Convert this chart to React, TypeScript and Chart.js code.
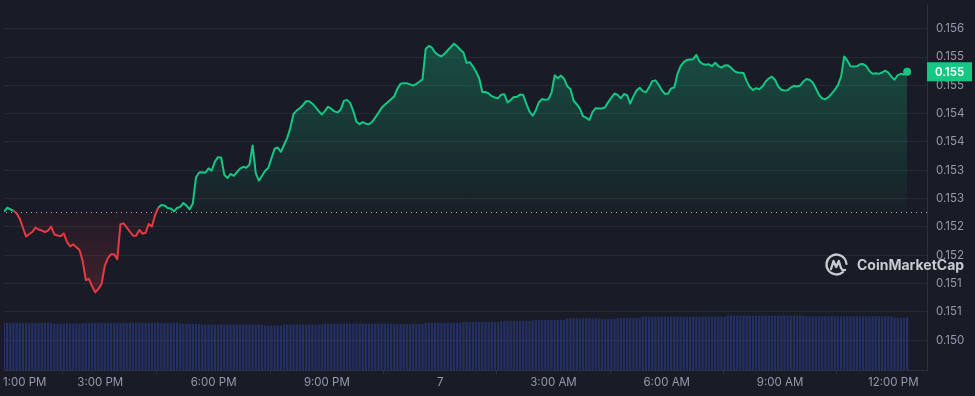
import React, { useEffect, useRef } from "react";
import { Chart, registerables } from "chart.js";

Chart.register(...registerables);

// 5-minute samples, starting 12:27 PM
const STEP_MINUTES = 5;

const PRICE: number[] = [
  0.152769, 0.152839, 0.152813, 0.152786, 0.152743, 0.152647, 0.15249, 0.152332, 0.152376, 0.152411,
  0.15249, 0.152455, 0.152437, 0.152411, 0.152437, 0.152507, 0.152367, 0.15235, 0.152338, 0.152385,
  0.152236, 0.152158, 0.152193, 0.15214, 0.152093, 0.151896, 0.151564, 0.151582, 0.151452, 0.151346,
  0.151407, 0.151491, 0.151809, 0.151948, 0.152018, 0.152018, 0.151931, 0.152547, 0.152563, 0.152493,
  0.152416, 0.152345, 0.152345, 0.152446, 0.152381, 0.152399, 0.152554, 0.152507, 0.152708, 0.152839,
  0.152886, 0.152881, 0.152835, 0.152827, 0.152776, 0.152835, 0.152855, 0.152923, 0.152877, 0.152813,
  0.152914, 0.153373, 0.153462, 0.153466, 0.153457, 0.153534, 0.153495, 0.153651, 0.153733, 0.153726,
  0.153422, 0.153364, 0.153436, 0.153403, 0.153466, 0.15353, 0.153562, 0.153544, 0.153598, 0.153939,
  0.15345, 0.153317, 0.153405, 0.153494, 0.153546, 0.153715, 0.153881, 0.153902, 0.153827, 0.153951,
  0.154072, 0.15425, 0.154494, 0.154555, 0.154597, 0.154653, 0.154719, 0.154719, 0.154676, 0.154615,
  0.154545, 0.154486, 0.15455, 0.154623, 0.154585, 0.154541, 0.154522, 0.154573, 0.154725, 0.154744,
  0.15469, 0.154545, 0.154358, 0.154314, 0.154351, 0.154323, 0.154314, 0.154358, 0.154435, 0.154517,
  0.154603, 0.154657, 0.154706, 0.154753, 0.154803, 0.154938, 0.155029, 0.155039, 0.155039, 0.155018,
  0.154997, 0.155027, 0.155064, 0.155109, 0.155641, 0.155697, 0.155664, 0.155579, 0.155535, 0.155511,
  0.155558, 0.155619, 0.155676, 0.155736, 0.15569, 0.155628, 0.155579, 0.155397, 0.155409, 0.155336,
  0.15524, 0.155126, 0.154882, 0.154882, 0.154857, 0.154809, 0.154786, 0.154774, 0.154835, 0.154842,
  0.154699, 0.154742, 0.154795, 0.154796, 0.154838, 0.154828, 0.154672, 0.154538, 0.154463, 0.154562,
  0.154702, 0.154758, 0.154744, 0.154754, 0.154871, 0.155177, 0.155126, 0.155172, 0.155116, 0.154983,
  0.154934, 0.154728, 0.154667, 0.15459, 0.154454, 0.15443, 0.154388, 0.154529, 0.154597, 0.15459,
  0.154592, 0.154611, 0.154704, 0.154784, 0.154856, 0.154833, 0.15477, 0.154847, 0.154826, 0.154678,
  0.154805, 0.154908, 0.154957, 0.154898, 0.154878, 0.154964, 0.155074, 0.155088, 0.155013, 0.154917,
  0.154852, 0.154852, 0.154947, 0.154961, 0.155198, 0.155338, 0.155411, 0.155449, 0.155456, 0.155462,
  0.155537, 0.155423, 0.155376, 0.155362, 0.155371, 0.155339, 0.155399, 0.155341, 0.155313, 0.155352,
  0.155353, 0.155313, 0.155257, 0.155226, 0.155224, 0.155217, 0.155074, 0.154969, 0.154917, 0.154952,
  0.154931, 0.154978, 0.155065, 0.155121, 0.155154, 0.155098, 0.154983, 0.154922, 0.15491, 0.154913,
  0.154961, 0.154992, 0.154981, 0.154997, 0.155067, 0.155112, 0.1551, 0.15505, 0.154943, 0.15483,
  0.154768, 0.154756, 0.154791, 0.154852, 0.15492, 0.155004, 0.155154, 0.155511, 0.155435, 0.155338,
  0.155331, 0.155336, 0.155371, 0.155376, 0.155341, 0.155254, 0.155205, 0.155212, 0.155203, 0.155226,
  0.155259, 0.155226, 0.155153, 0.1551, 0.155179, 0.155203, 0.155191, 0.15524,
];

// 24h rolling volume (millions)
const VOLUME: number[] = [
  12.9, 12.9, 12.9, 12.9, 12.9, 12.9, 12.9, 12.9, 12.9, 12.9,
  12.9, 12.9, 12.9, 12.9, 12.9, 12.9, 12.62, 12.62, 12.62, 12.7,
  12.7, 12.7, 12.7, 12.7, 12.7, 12.9, 12.9, 12.9, 12.9, 12.9,
  12.9, 12.9, 12.9, 12.9, 12.9, 12.9, 12.9, 12.9, 12.9, 12.9,
  12.9, 12.9, 12.9, 12.9, 12.9, 12.9, 12.9, 12.9, 12.9, 12.9,
  12.9, 12.9, 12.9, 12.9, 12.9, 12.9, 12.62, 12.62, 12.62, 12.62,
  12.62, 12.62, 12.62, 12.43, 12.43, 12.43, 12.43, 12.43, 12.43, 12.43,
  12.43, 12.43, 12.43, 12.43, 12.43, 12.43, 12.43, 12.43, 12.43, 12.43,
  12.43, 12.43, 12.43, 12.16, 12.16, 12.16, 12.16, 12.16, 12.16, 12.43,
  12.43, 12.43, 12.43, 12.43, 12.43, 12.43, 12.43, 12.43, 12.43, 12.43,
  12.43, 12.43, 12.65, 12.65, 12.65, 12.65, 12.65, 12.65, 12.65, 12.65,
  12.65, 12.65, 12.65, 12.65, 12.65, 12.65, 12.65, 12.65, 12.65, 12.65,
  12.65, 12.65, 12.65, 12.65, 12.57, 12.57, 12.57, 12.57, 12.57, 12.57,
  12.57, 12.57, 12.57, 12.57, 12.9, 12.9, 12.9, 12.9, 12.9, 12.9,
  12.9, 12.9, 12.9, 12.9, 12.9, 12.9, 13.16, 13.16, 13.16, 13.16,
  13.16, 13.16, 13.16, 13.16, 13.16, 13.16, 13.16, 13.16, 13.43, 13.43,
  13.43, 13.43, 13.43, 13.43, 13.43, 13.43, 13.43, 13.43, 13.7, 13.7,
  13.7, 13.7, 13.7, 13.7, 13.7, 13.7, 13.7, 13.7, 13.7, 14.14,
  14.14, 14.14, 14.14, 14.14, 14.14, 14.14, 14.14, 14.14, 14.14, 14.14,
  13.97, 13.97, 13.97, 13.97, 13.97, 14.24, 14.24, 14.24, 14.24, 14.24,
  14.24, 14.24, 14.24, 14.59, 14.59, 14.59, 14.59, 14.59, 14.59, 14.59,
  14.59, 14.59, 14.59, 14.59, 14.59, 14.59, 14.59, 14.59, 14.59, 14.59,
  14.59, 14.59, 14.59, 14.59, 14.59, 14.59, 14.59, 14.59, 14.59, 14.59,
  14.86, 14.86, 14.86, 14.86, 14.86, 14.86, 14.86, 14.86, 14.86, 14.86,
  14.86, 14.86, 14.86, 14.86, 14.86, 14.86, 14.86, 14.86, 14.86, 14.86,
  14.86, 14.86, 14.86, 14.86, 14.86, 14.68, 14.68, 14.68, 14.68, 14.68,
  14.68, 14.68, 14.68, 14.68, 14.68, 14.68, 14.68, 14.68, 14.68, 14.68,
  14.68, 14.68, 14.68, 14.68, 14.68, 14.68, 14.68, 14.68, 14.68, 14.68,
  14.68, 14.68, 14.68, 14.32, 14.32, 14.32, 14.32, 14.32,
];

const BASELINE = 0.152769;
const CURRENT_PRICE_LABEL = "0.155";

const Y_MIN = 0.149975;
const Y_MAX = 0.156436;
const Y_TICKS = [0.1505, 0.151, 0.1515, 0.152, 0.1525, 0.153, 0.1535, 0.154, 0.1545, 0.155, 0.1555, 0.156];
const Y_TICK_LABELS = ["0.150", "0.151", "0.151", "0.152", "0.152", "0.153", "0.153", "0.154", "0.154", "0.155", "0.155", "0.156"];

const X_MAX_MINUTES = 1466.5;
const X_TICKS = [33, 153, 333, 513, 693, 873, 1053, 1233, 1413];
const X_TICK_LABELS = ["1:00 PM", "3:00 PM", "6:00 PM", "9:00 PM", "7", "3:00 AM", "6:00 AM", "9:00 AM", "12:00 PM"];

const VOLUME_AXIS_MAX = 100;

const GREEN = "#16c784";
const RED = "#ea3943";
const BG = "#191b26";
const GRID = "#262936";
const AXIS = "#2d303d";
const TEXT = "#949aaa";
const FONT = "Inter, 'Noto Sans', sans-serif";

const overlayPlugin = {
  id: "cmcOverlay",
  beforeDatasetsDraw(chart: any) {
    const { ctx, chartArea, scales } = chart;
    const y = scales.y.getPixelForValue(BASELINE);
    ctx.save();
    ctx.strokeStyle = "rgba(200,204,214,0.85)";
    ctx.lineWidth = 1;
    ctx.setLineDash([1, 4]);
    ctx.beginPath();
    ctx.moveTo(chartArea.left + 2, Math.round(y) + 0.5);
    ctx.lineTo(chartArea.right, Math.round(y) + 0.5);
    ctx.stroke();
    ctx.restore();
  },
  afterDraw(chart: any) {
    const { ctx, chartArea, scales } = chart;
    // watermark
    ctx.save();
    const wm = "rgba(214,217,225,0.92)";
    const cx = 836.5;
    const cy = 264.5;
    const r = 10;
    ctx.strokeStyle = wm;
    ctx.lineWidth = 2.3;
    ctx.lineCap = "round";
    ctx.lineJoin = "round";
    ctx.beginPath();
    ctx.arc(cx, cy, r, 0.28 * Math.PI, 1.98 * Math.PI);
    ctx.stroke();
    ctx.beginPath();
    ctx.moveTo(cx - 5.5, cy + 4.5);
    ctx.lineTo(cx - 3, cy - 3.5);
    ctx.lineTo(cx - 0.3, cy + 2.5);
    ctx.lineTo(cx + 2.3, cy - 3.5);
    ctx.lineTo(cx + 4.5, cy + 3.5);
    ctx.quadraticCurveTo(cx + 6, cy + 6.5, cx + 8.5, cy + 5.5);
    ctx.stroke();
    ctx.fillStyle = wm;
    ctx.font = "bold 14px " + FONT;
    ctx.textAlign = "left";
    ctx.textBaseline = "middle";
    ctx.fillText("CoinMarketCap", 857, 266);
    ctx.restore();

    // current price tag
    const last = PRICE[PRICE.length - 1];
    const py = scales.y.getPixelForValue(last);
    ctx.save();
    ctx.fillStyle = GREEN;
    ctx.fillRect(chartArea.right, py - 9.5, 45, 19);
    ctx.fillStyle = "#ffffff";
    ctx.font = "600 11.5px " + FONT;
    ctx.textAlign = "center";
    ctx.textBaseline = "middle";
    ctx.fillText(CURRENT_PRICE_LABEL, chartArea.right + 22.5, py + 0.5);
    ctx.restore();
  },
};

export default function App() {
  const ref = useRef<HTMLCanvasElement | null>(null);

  useEffect(() => {
    document.body.style.margin = "0";
    document.body.style.background = BG;
    const canvas = ref.current;
    if (!canvas) return;

    const priceData = PRICE.map((p, i) => ({ x: i * STEP_MINUTES, y: p }));
    const volData = VOLUME.map((v, i) => ({ x: i * STEP_MINUTES, y: v }));
    const lastIndex = PRICE.length - 1;

    const chart = new Chart(canvas, {
      type: "line",
      data: {
        datasets: [
          {
            type: "line",
            data: priceData as any,
            yAxisID: "y",
            xAxisID: "x",
            borderColor: GREEN,
            borderWidth: 2,
            tension: 0,
            borderJoinStyle: "round",
            fill: false,
            pointRadius: (c: any) => (c.dataIndex === lastIndex ? 4 : 0),
            pointBackgroundColor: GREEN,
            pointBorderWidth: 0,
            pointHoverRadius: 0,
            order: 0,
            segment: {
              borderColor: (c: any) =>
                c.p0.parsed.y < BASELINE || c.p1.parsed.y < BASELINE ? RED : GREEN,
            },
          } as any,
          {
            type: "bar",
            data: volData as any,
            yAxisID: "yv",
            xAxisID: "x",
            backgroundColor: "rgba(50,70,158,0.5)",
            borderWidth: 0,
            barPercentage: 0.72,
            categoryPercentage: 1,
            order: 1,
          } as any,
        ],
      },
      options: {
        responsive: false,
        animation: false,
        events: [],
        layout: { padding: 0 },
        plugins: {
          legend: { display: false },
          tooltip: { enabled: false },
        },
        scales: {
          x: {
            type: "linear",
            position: "bottom",
            min: 0,
            max: X_MAX_MINUTES,
            offset: false,
            afterBuildTicks: (scale: any) => {
              scale.ticks = X_TICKS.map((v) => ({ value: v }));
            },
            afterFit: (scale: any) => {
              scale.height = 26;
              scale.paddingLeft = 0;
              scale.paddingRight = 0;
            },
            ticks: {
              autoSkip: false,
              maxRotation: 0,
              minRotation: 0,
              padding: 2,
              color: TEXT,
              font: { family: FONT, size: 11.5 },
              callback: (_v: any, i: number) => X_TICK_LABELS[i],
            },
            grid: {
              display: true,
              drawOnChartArea: false,
              drawTicks: true,
              tickLength: 4,
              color: AXIS,
            },
            border: { display: true, color: AXIS },
          },
          y: {
            type: "linear",
            position: "right",
            min: Y_MIN,
            max: Y_MAX,
            afterBuildTicks: (scale: any) => {
              scale.ticks = Y_TICKS.map((v) => ({ value: v }));
            },
            afterFit: (scale: any) => {
              scale.width = 48;
              scale.paddingTop = 0;
              scale.paddingBottom = 0;
            },
            ticks: {
              padding: 9,
              color: TEXT,
              font: { family: FONT, size: 11.5 },
              callback: (_v: any, i: number) => Y_TICK_LABELS[i],
            },
            grid: { color: GRID, drawTicks: false },
            border: { display: true, color: AXIS },
          },
          yv: {
            type: "linear",
            display: false,
            min: 0,
            max: VOLUME_AXIS_MAX,
          },
        },
      } as any,
      plugins: [overlayPlugin],
    });

    // gradient fills relative to the baseline (open price)
    const ys = chart.scales.y;
    const ctx = chart.ctx;
    const topPx = ys.getPixelForValue(Math.max(...PRICE));
    const basePx = ys.getPixelForValue(BASELINE);
    const botPx = ys.getPixelForValue(Math.min(...PRICE));
    const gUp = ctx.createLinearGradient(0, topPx, 0, basePx);
    gUp.addColorStop(0, "rgba(22,199,132,0.30)");
    gUp.addColorStop(1, "rgba(22,199,132,0.03)");
    const gDown = ctx.createLinearGradient(0, basePx, 0, botPx);
    gDown.addColorStop(0, "rgba(234,57,67,0.03)");
    gDown.addColorStop(1, "rgba(234,57,67,0.20)");
    (chart.data.datasets[0] as any).fill = { target: { value: BASELINE }, above: gUp, below: gDown };
    chart.update();

    return () => chart.destroy();
  }, []);

  return (
    <div style={{ position: "fixed", left: 0, top: 0, width: 975, height: 396, background: BG }}>
      <canvas ref={ref} width={975} height={396} style={{ display: "block", width: 975, height: 396 }} />
    </div>
  );
}
